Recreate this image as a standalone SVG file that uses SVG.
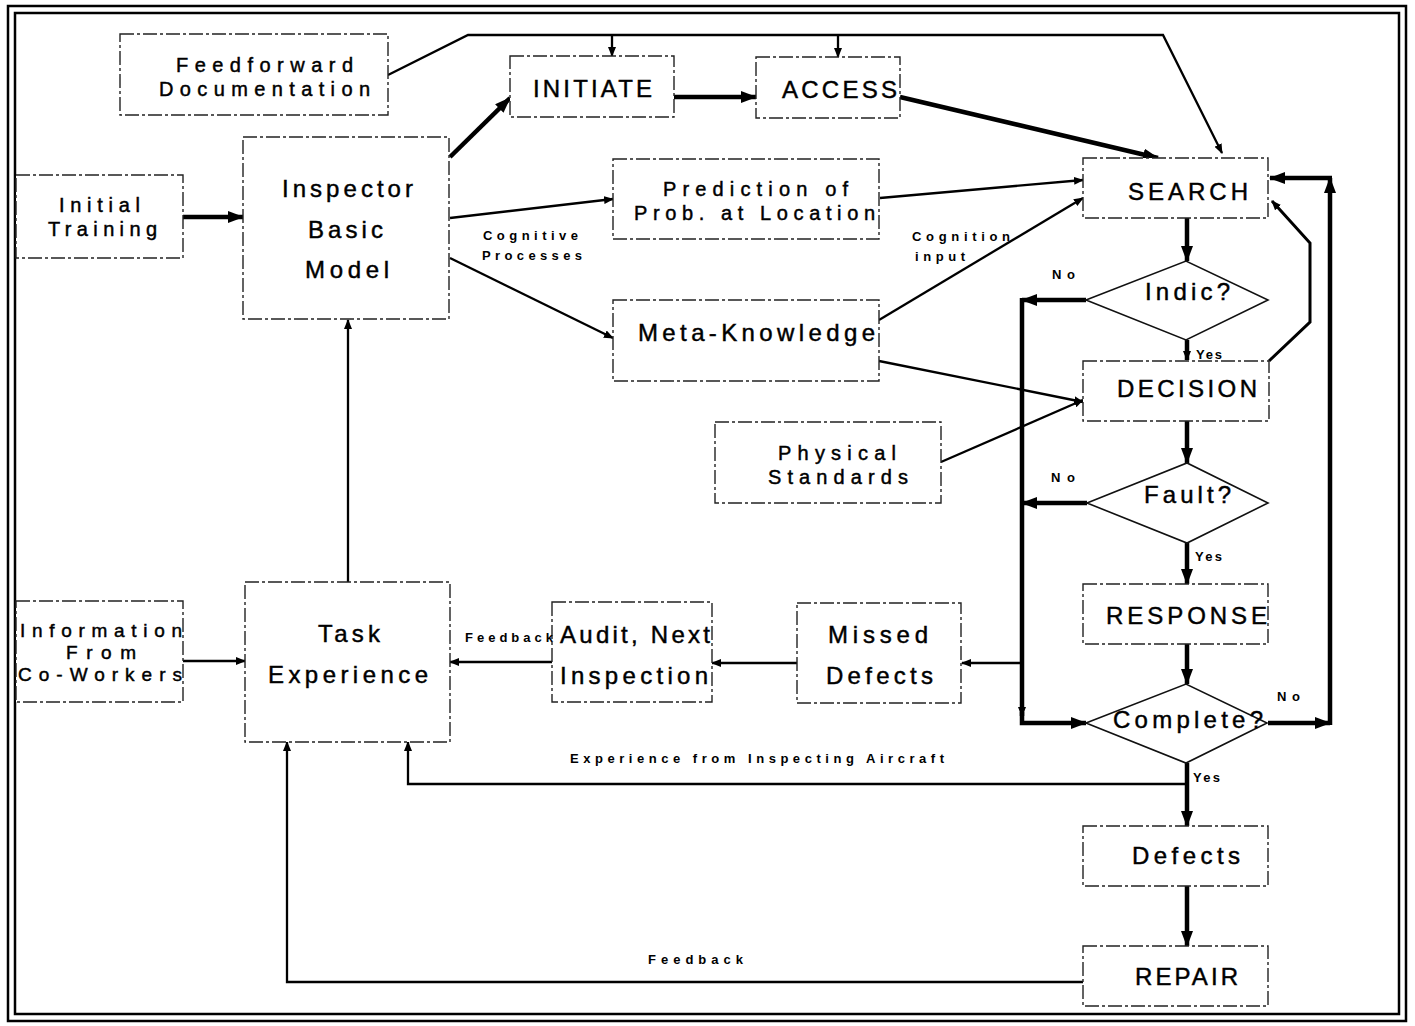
<svg xmlns="http://www.w3.org/2000/svg" width="1415" height="1026" viewBox="0 0 1415 1026">
<style>
.box{fill:#fff;stroke:#222;stroke-width:1.4;stroke-dasharray:14 3 3 3}
.dia{fill:#fff;stroke:#111;stroke-width:1.6}
.t{font-family:"Liberation Sans",Arial,sans-serif;font-size:24px;fill:#000;stroke:#000;stroke-width:0.45}
.t2{font-family:"Liberation Sans",Arial,sans-serif;font-size:20px;fill:#000;stroke:#000;stroke-width:0.45}
.t3{font-family:"Liberation Sans",Arial,sans-serif;font-size:19px;fill:#000;stroke:#000;stroke-width:0.45}
.s{font-family:"Liberation Sans",Arial,sans-serif;font-size:13px;font-weight:bold;fill:#000}
.thick{fill:none;stroke:#000;stroke-width:4.5}
.med{fill:none;stroke:#000;stroke-width:3}
.thin{fill:none;stroke:#000;stroke-width:2.3}
.frame{fill:none;stroke:#000;stroke-width:2.5}
</style>
<defs>
<marker id="big" viewBox="0 0 16 12" refX="15" refY="6" markerWidth="16" markerHeight="12" markerUnits="userSpaceOnUse" orient="auto"><path d="M0,0 L16,6 L0,12 z" fill="#000"/></marker>
<marker id="sm" viewBox="0 0 10 8" refX="9" refY="4" markerWidth="10" markerHeight="8" markerUnits="userSpaceOnUse" orient="auto"><path d="M0,0 L10,4 L0,8 z" fill="#000"/></marker>
</defs>
<rect width="1415" height="1026" fill="#fff"/>
<rect class="frame" x="8" y="6" width="1398" height="1015"/>
<rect class="frame" x="15" y="13" width="1384" height="1001"/>

<g id="connectors">
<path class="thick" d="M183,217 L243,217" marker-end="url(#big)"/>
<path class="thick" d="M450,157 L510,98" marker-end="url(#big)"/>
<path class="thick" d="M674,97 L756,97" marker-end="url(#big)"/>
<path class="thick" d="M900,97 L1158,158" marker-end="url(#big)"/>
<path class="thick" d="M1187,218 L1187,261" marker-end="url(#big)"/>
<path class="thick" d="M1187,340 L1187,360" marker-end="url(#sm)"/>
<path class="thick" d="M1187,421 L1187,463" marker-end="url(#big)"/>
<path class="thick" d="M1187,543 L1187,584" marker-end="url(#big)"/>
<path class="thick" d="M1187,644 L1187,684" marker-end="url(#big)"/>
<path class="thick" d="M1187,763 L1187,826" marker-end="url(#big)"/>
<path class="thick" d="M1187,886 L1187,946" marker-end="url(#big)"/>
<path class="thick" d="M1086,300 L1022,300" marker-end="url(#big)"/>
<path class="thick" d="M1087,503 L1022,503" marker-end="url(#big)"/>
<path class="thick" d="M1022,298 L1022,716" marker-end="url(#sm)"/>
<path class="thick" d="M1022,712 L1022,723 L1086,723" marker-end="url(#big)"/>
<path class="thick" d="M1268,723 L1330,723" marker-end="url(#big)"/>
<path class="thick" d="M1330,725 L1330,178" marker-end="url(#big)"/>
<path class="thick" d="M1332,178 L1270,178" marker-end="url(#big)"/>
<path class="med" d="M1269,361 L1310,322 L1310,243 L1272,201" marker-end="url(#sm)"/>
<path class="thin" d="M388,75 L468,35 L1163,35 L1222,153" marker-end="url(#sm)"/>
<path class="thin" d="M612,35 L612,56" marker-end="url(#sm)"/>
<path class="thin" d="M838,35 L838,57" marker-end="url(#sm)"/>
<path class="thin" d="M450,218 L613,199" marker-end="url(#sm)"/>
<path class="thin" d="M450,258 L613,338" marker-end="url(#sm)"/>
<path class="thin" d="M880,198 L1083,180" marker-end="url(#sm)"/>
<path class="thin" d="M879,320 L1083,198" marker-end="url(#sm)"/>
<path class="thin" d="M879,361 L1083,402" marker-end="url(#sm)"/>
<path class="thin" d="M941,462 L1083,400" marker-end="url(#sm)"/>
<path class="thin" d="M348,582 L348,320" marker-end="url(#sm)"/>
<path class="thin" d="M183,661 L245,661" marker-end="url(#sm)"/>
<path class="thin" d="M552,662 L450,662" marker-end="url(#sm)"/>
<path class="thin" d="M797,663 L712,663" marker-end="url(#sm)"/>
<path class="thin" d="M1022,663 L962,663" marker-end="url(#sm)"/>
<path class="thin" d="M1187,784 L408,784 L408,742" marker-end="url(#sm)"/>
<path class="thin" d="M1083,982 L287,982 L287,742" marker-end="url(#sm)"/>
</g>

<g id="n-feedforward"><rect class="box" x="120" y="34" width="268" height="81"/>
<text class="t2" x="176" y="72" textLength="177" lengthAdjust="spacing">Feedforward</text>
<text class="t2" x="159" y="96" textLength="211" lengthAdjust="spacing">Documentation</text></g>

<g id="n-training"><rect class="box" x="16" y="175" width="167" height="83"/>
<text class="t2" x="59" y="212" textLength="81" lengthAdjust="spacing">Initial</text>
<text class="t2" x="48" y="236" textLength="109" lengthAdjust="spacing">Training</text></g>

<g id="n-inspector"><rect class="box" x="243" y="137" width="206" height="182"/>
<text class="t" x="282" y="197" textLength="131" lengthAdjust="spacing">Inspector</text>
<text class="t" x="308" y="238" textLength="75" lengthAdjust="spacing">Basic</text>
<text class="t" x="305" y="278" textLength="84" lengthAdjust="spacing">Model</text></g>

<g id="n-initiate"><rect class="box" x="510" y="56" width="164" height="61"/>
<text class="t" x="533" y="97" textLength="119" lengthAdjust="spacing">INITIATE</text></g>

<g id="n-access"><rect class="box" x="756" y="57" width="144" height="61"/>
<text class="t" x="782" y="98" textLength="115" lengthAdjust="spacing">ACCESS</text></g>

<g id="n-prediction"><rect class="box" x="613" y="159" width="266" height="80"/>
<text class="t2" x="663" y="196" textLength="185" lengthAdjust="spacing">Prediction of</text>
<text class="t2" x="634" y="220" textLength="241" lengthAdjust="spacing">Prob. at Location</text></g>

<g id="n-meta"><rect class="box" x="613" y="300" width="266" height="81"/>
<text class="t" x="638" y="341" textLength="237" lengthAdjust="spacing">Meta-Knowledge</text></g>

<g id="n-physical"><rect class="box" x="715" y="422" width="226" height="81"/>
<text class="t2" x="778" y="460" textLength="118" lengthAdjust="spacing">Physical</text>
<text class="t2" x="768" y="484" textLength="140" lengthAdjust="spacing">Standards</text></g>

<g id="n-search"><rect class="box" x="1083" y="158" width="185" height="60"/>
<text class="t" x="1128" y="200" textLength="120" lengthAdjust="spacing">SEARCH</text></g>

<g id="n-indic"><path class="dia" d="M1086,300 L1186,261 L1268,300 L1186,340 z"/>
<text class="t" x="1145" y="300" textLength="85" lengthAdjust="spacing">Indic?</text></g>

<g id="n-decision"><rect class="box" x="1083" y="361" width="186" height="60"/>
<text class="t" x="1117" y="397" textLength="140" lengthAdjust="spacing">DECISION</text></g>

<g id="n-fault"><path class="dia" d="M1087,503 L1187,463 L1268,503 L1187,543 z"/>
<text class="t" x="1144" y="503" textLength="87" lengthAdjust="spacing">Fault?</text></g>

<g id="n-response"><rect class="box" x="1083" y="584" width="185" height="60"/>
<text class="t" x="1106" y="624" textLength="161" lengthAdjust="spacing">RESPONSE</text></g>

<g id="n-complete"><path class="dia" d="M1086,723 L1186,684 L1267,723 L1186,763 z"/>
<text class="t" x="1113" y="728" textLength="150" lengthAdjust="spacing">Complete?</text></g>

<g id="n-defects"><rect class="box" x="1083" y="826" width="185" height="60"/>
<text class="t" x="1132" y="864" textLength="108" lengthAdjust="spacing">Defects</text></g>

<g id="n-repair"><rect class="box" x="1083" y="946" width="185" height="60"/>
<text class="t" x="1135" y="985" textLength="103" lengthAdjust="spacing">REPAIR</text></g>

<g id="n-task"><rect class="box" x="245" y="582" width="205" height="160"/>
<text class="t" x="318" y="642" textLength="62" lengthAdjust="spacing">Task</text>
<text class="t" x="268" y="683" textLength="160" lengthAdjust="spacing">Experience</text></g>

<g id="n-info"><rect class="box" x="16" y="601" width="167" height="101"/>
<text class="t3" x="20" y="637" textLength="162" lengthAdjust="spacing">Information</text>
<text class="t3" x="66" y="659" textLength="70" lengthAdjust="spacing">From</text>
<text class="t3" x="18" y="681" textLength="164" lengthAdjust="spacing">Co-Workers</text></g>

<g id="n-audit"><rect class="box" x="552" y="602" width="160" height="100"/>
<text class="t" x="560" y="643" textLength="150" lengthAdjust="spacing">Audit, Next</text>
<text class="t" x="560" y="684" textLength="148" lengthAdjust="spacing">Inspection</text></g>

<g id="n-missed"><rect class="box" x="797" y="603" width="164" height="100"/>
<text class="t" x="828" y="643" textLength="100" lengthAdjust="spacing">Missed</text>
<text class="t" x="826" y="684" textLength="107" lengthAdjust="spacing">Defects</text></g>

<g id="labels">
<text class="s" x="483" y="240" textLength="95" lengthAdjust="spacing">Cognitive</text>
<text class="s" x="482" y="260" textLength="100" lengthAdjust="spacing">Processes</text>
<text class="s" x="912" y="241" textLength="98" lengthAdjust="spacing">Cognition</text>
<text class="s" x="915" y="261" textLength="50" lengthAdjust="spacing">input</text>
<text class="s" x="1052" y="279" textLength="23" lengthAdjust="spacing">No</text>
<text class="s" x="1196" y="359" textLength="26" lengthAdjust="spacing">Yes</text>
<text class="s" x="1051" y="482" textLength="24" lengthAdjust="spacing">No</text>
<text class="s" x="1195" y="561" textLength="27" lengthAdjust="spacing">Yes</text>
<text class="s" x="1277" y="701" textLength="23" lengthAdjust="spacing">No</text>
<text class="s" x="1193" y="782" textLength="27" lengthAdjust="spacing">Yes</text>
<text class="s" x="465" y="642" textLength="88" lengthAdjust="spacing">Feedback</text>
<text class="s" x="570" y="763" textLength="374" lengthAdjust="spacing">Experience from Inspecting Aircraft</text>
<text class="s" x="648" y="964" textLength="95" lengthAdjust="spacing">Feedback</text>
</g>
</svg>
